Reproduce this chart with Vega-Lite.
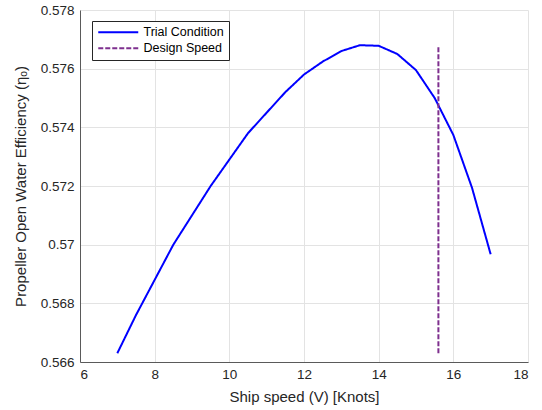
{
  "$schema": "https://vega.github.io/schema/vega-lite/v6.json",
  "autosize": {"type": "none"},
  "width": 448,
  "height": 352,
  "padding": {"left": 80, "top": 10, "right": 14, "bottom": 48},
  "background": "white",
  "config": {
    "font": "Liberation Sans",
    "view": {"stroke": null},
    "axis": {
      "gridColor": "#e3e3e3",
      "gridWidth": 1,
      "gridOpacity": 1,
      "domainColor": "#5a5a5a",
      "tickColor": "#5a5a5a",
      "labelColor": "#262626",
      "titleColor": "#262626",
      "labelFontSize": 13.5,
      "titleFontSize": 15,
      "titleFontWeight": "normal",
      "labelFont": "Liberation Sans",
      "titleFont": "Liberation Sans"
    },
    "legend": {
      "orient": "none",
      "legendX": 12,
      "legendY": 11,
      "strokeColor": "#262626",
      "fillColor": "white",
      "padding": 5,
      "labelFontSize": 12.5,
      "labelColor": "#000000",
      "labelFont": "Liberation Sans",
      "symbolType": "M-1,0H7",
      "symbolSize": 100,
      "symbolStrokeWidth": 2,
      "rowPadding": 3,
      "labelOffset": 34
    }
  },
  "datasets": {
    "trial": [
      {"v": 7.0, "eta": 0.5663, "series": "Trial Condition"},
      {"v": 7.5, "eta": 0.5676, "series": "Trial Condition"},
      {"v": 8.0, "eta": 0.5688, "series": "Trial Condition"},
      {"v": 8.5, "eta": 0.5700, "series": "Trial Condition"},
      {"v": 9.0, "eta": 0.5710, "series": "Trial Condition"},
      {"v": 9.5, "eta": 0.5720, "series": "Trial Condition"},
      {"v": 10.0, "eta": 0.5729, "series": "Trial Condition"},
      {"v": 10.5, "eta": 0.5738, "series": "Trial Condition"},
      {"v": 11.0, "eta": 0.5745, "series": "Trial Condition"},
      {"v": 11.5, "eta": 0.5752, "series": "Trial Condition"},
      {"v": 12.0, "eta": 0.5758, "series": "Trial Condition"},
      {"v": 12.5, "eta": 0.57624, "series": "Trial Condition"},
      {"v": 13.0, "eta": 0.5766, "series": "Trial Condition"},
      {"v": 13.5, "eta": 0.5768, "series": "Trial Condition"},
      {"v": 14.0, "eta": 0.57678, "series": "Trial Condition"},
      {"v": 14.5, "eta": 0.5765, "series": "Trial Condition"},
      {"v": 15.0, "eta": 0.57595, "series": "Trial Condition"},
      {"v": 15.5, "eta": 0.5750, "series": "Trial Condition"},
      {"v": 16.0, "eta": 0.57374, "series": "Trial Condition"},
      {"v": 16.5, "eta": 0.57194, "series": "Trial Condition"},
      {"v": 17.0, "eta": 0.56967, "series": "Trial Condition"}
    ],
    "design": [
      {"v": 15.6, "eta": 0.5663, "series": "Design Speed"},
      {"v": 15.6, "eta": 0.5768, "series": "Design Speed"}
    ]
  },
  "encoding": {
    "x": {
      "field": "v",
      "type": "quantitative",
      "scale": {"domain": [6, 18], "nice": false, "zero": false},
      "axis": {"grid": true, "ticks": false, "values": [6, 8, 10, 12, 14, 16, 18], "format": "d", "title": "Ship speed (V) [Knots]", "labelPadding": 5, "titlePadding": 9}
    },
    "y": {
      "field": "eta",
      "type": "quantitative",
      "scale": {"domain": [0.566, 0.578], "nice": false, "zero": false},
      "axis": {"grid": true, "ticks": false, "values": [0.566, 0.568, 0.57, 0.572, 0.574, 0.576, 0.578], "format": ".3~f", "title": "Propeller Open Water Efficiency (ηₒ)", "labelPadding": 6, "titlePadding": 12}
    },
    "color": {
      "field": "series",
      "type": "nominal",
      "scale": {"domain": ["Trial Condition", "Design Speed"], "range": ["#0000FF", "#7E2F8E"]},
      "legend": {"title": null}
    },
    "strokeDash": {
      "field": "series",
      "type": "nominal",
      "scale": {"domain": ["Trial Condition", "Design Speed"], "range": [[1, 0], [5, 2]]},
      "legend": {"title": null}
    }
  },
  "layer": [
    {"data": {"name": "trial"}, "mark": {"type": "line", "strokeWidth": 2}},
    {"data": {"name": "design"}, "mark": {"type": "line", "strokeWidth": 2}}
  ]
}
